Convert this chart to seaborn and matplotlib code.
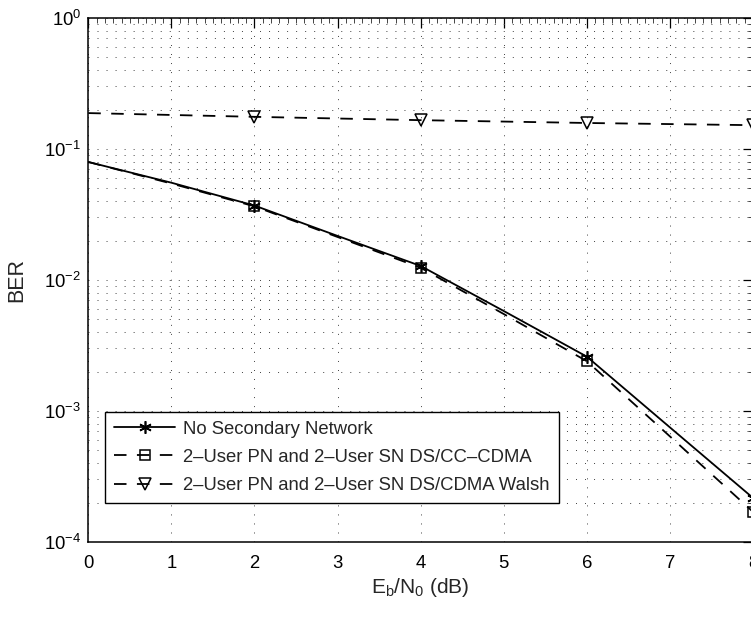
import numpy as np
import pandas as pd
import matplotlib
matplotlib.use("Agg")
import matplotlib.pyplot as plt
import seaborn as sns
from matplotlib.ticker import LogLocator, FixedLocator, MultipleLocator

# ---- data ----
ebn0_full = [0, 1, 2, 3, 4, 5, 6, 7, 8]
ber_no_sn = [0.0796, 0.0553, 0.0370, 0.0217, 0.0128, 0.0058, 0.0026, 7.5e-4, 2.17e-4]
ber_cc_cdma = [0.0796, 0.0545, 0.0365, 0.0213, 0.0124, 0.0055, 0.0024, 6.4e-4, 1.70e-4]
ebn0_walsh = [0, 2, 4, 6, 8]
ber_walsh = [0.188, 0.176, 0.166, 0.158, 0.152]

labels = ["No Secondary Network",
          "2\u2013User PN and 2\u2013User SN DS/CC\u2013CDMA",
          "2\u2013User PN and 2\u2013User SN DS/CDMA Walsh"]
xticks = [0, 1, 2, 3, 4, 5, 6, 7, 8]

sns.set_style("white")
plt.rcParams['font.family'] = ['Liberation Sans', 'DejaVu Sans']
plt.rcParams['mathtext.fontset'] = 'custom'
plt.rcParams['mathtext.rm'] = 'Liberation Sans'
plt.rcParams['mathtext.it'] = 'Liberation Sans:italic'
plt.rcParams['lines.scale_dashes'] = False

W, H = 751, 617
fig = plt.figure(figsize=(W / 100, H / 100), dpi=100)
left, right, top, bottom = 88.3, 753.0, 18.0, 542.0
ax = fig.add_axes([left / W, (H - bottom) / H, (right - left) / W, (bottom - top) / H])

df1 = pd.DataFrame({"x": ebn0_full, "y": ber_no_sn})
df2 = pd.DataFrame({"x": ebn0_full, "y": ber_cc_cdma})
df3 = pd.DataFrame({"x": ebn0_walsh, "y": ber_walsh})

dash = (0, (9, 7.5))
sns.lineplot(data=df1, x="x", y="y", ax=ax, color="black", lw=1.3,
             marker=(6, 2, 0), markersize=9, markevery=[2, 4, 6, 8],
             markeredgecolor="black", markerfacecolor="black", markeredgewidth=1.2,
             label=labels[0], sort=False, estimator=None)
sns.lineplot(data=df2, x="x", y="y", ax=ax, color="black", lw=1.3, linestyle=dash,
             marker="s", markersize=7.5, markevery=[2, 4, 6, 8],
             markeredgecolor="black", markerfacecolor="none", markeredgewidth=1.1,
             label=labels[1], sort=False, estimator=None)
sns.lineplot(data=df3, x="x", y="y", ax=ax, color="black", lw=1.3, linestyle=dash,
             marker="v", markersize=9, markevery=[1, 2, 3, 4],
             markeredgecolor="black", markerfacecolor="none", markeredgewidth=1.1,
             label=labels[2], sort=False, estimator=None)

ax.set_yscale("log")
ax.set_xlim(0, 8)
ax.set_ylim(1e-4, 1)
ax.xaxis.set_major_locator(FixedLocator(xticks))
ax.xaxis.set_minor_locator(MultipleLocator(0.1))
ax.yaxis.set_major_locator(LogLocator(base=10, numticks=10))
ax.yaxis.set_minor_locator(LogLocator(base=10, subs=np.arange(2, 10), numticks=20))

gridstyle = dict(color="0.25", linestyle=(0, (0.7, 5.8)), linewidth=0.7)
ax.grid(True, which="major", axis="both", **gridstyle)
ax.grid(True, which="minor", axis="y", **gridstyle)
ax.set_axisbelow(True)

for s in ax.spines.values():
    s.set_color("black")
    s.set_linewidth(1.1)

ax.tick_params(which="major", direction="in", length=7, width=0.9, top=True, right=True,
               labelsize=13.3, colors="black")
ax.tick_params(axis="x", which="major", pad=9)
ax.tick_params(axis="y", which="major", pad=5)
ax.tick_params(which="minor", direction="in", length=3.5, width=0.6, top=True, right=True)

ax.set_xlabel("E$_\\mathregular{b}$/N$_\\mathregular{0}$ (dB)", fontsize=15, labelpad=3)
ax.set_ylabel("BER", fontsize=15.5, labelpad=12)

leg = ax.legend(loc="lower left", bbox_to_anchor=(0.025, 0.074), borderaxespad=0,
                fontsize=13.3, frameon=True, fancybox=False, shadow=False,
                handlelength=3.3, handletextpad=0.43, labelspacing=0.6,
                borderpad=0.5)
leg.get_frame().set_edgecolor("black")
leg.get_frame().set_linewidth(1.0)
leg.get_frame().set_alpha(1)

fig.savefig("out.png", dpi=100)
